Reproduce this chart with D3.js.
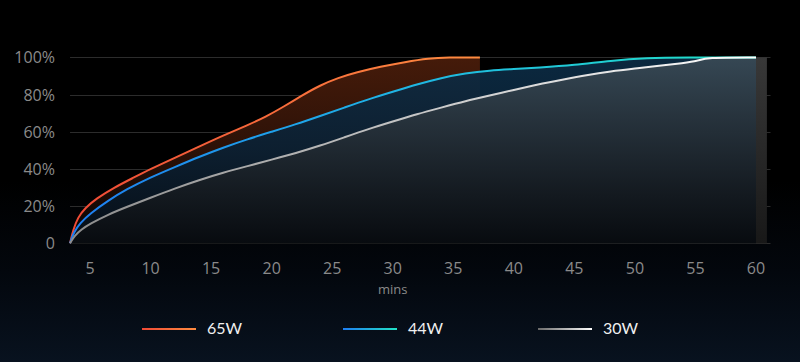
<!DOCTYPE html>
<html>
<head>
<meta charset="utf-8">
<script src="https://cdn.jsdelivr.net/npm/d3@7"></script>
<style>
  html, body { margin: 0; padding: 0; background: #000; }
  svg { display: block; }
</style>
</head>
<body>
<div id="chart"></div>
<script>

// charging curves, [minutes, percent]
var charge65 = [[3.35,0],[3.6,7],[4.0,14],[4.6,19],[5.5,24],[7,30],[8.5,35],[10,40],[12,46],[14,52],[16,58],[18,63.5],[19.5,68],[21,73.5],[22.5,79.5],[24,85],[25.5,89],[27,92],[29,95],[31,97.5],[33,99.5],[34.5,100],[37.2,100]];
var charge44 = [[3.35,0],[3.65,6],[4.2,11],[5,16],[6.5,23],[8,29],[10,35.5],[12,41],[14,46.5],[16,51.5],[18,56],[20,60],[22,64],[24,68.5],[26,73],[28,77.5],[30,81.5],[32,85.5],[34,89],[36,91.5],[38,93],[40,93.8],[42,94.5],[45,95.8],[48,98.3],[51,99.7],[54,100],[60,100]];
var charge30 = [[3.35,0],[3.7,4],[4.3,7.5],[5,10.5],[6.5,15.5],[8,19.5],[10,24.5],[12,29.5],[14,34],[16,38],[18,41.5],[20,45],[22,48.5],[24,52.5],[26,57],[28,61.5],[30,65.5],[32,69.5],[34,73],[36,76.5],[38,79.5],[40,82.5],[42,85.5],[44,88],[46,90.5],[48,92.5],[50,94],[52,95.5],[54,97],[55.2,98],[55.8,100],[60,100]];

var xTicks = [5,10,15,20,25,30,35,40,45,50,55,60];
var yTicks = [0,20,40,60,80,100];
var yTickLabels = ["0","20%","40%","60%","80%","100%"];
var legendNames = ["65W","44W","30W"];
var gridRange = [3.35, 61.2];   // minutes covered by gridlines
var stripEnd = 60.9;            // grey band after the last point

var svgWidth = 800;
var svgHeight = 362;

var svg = d3.select("#chart")
  .append("svg")
  .attr("width", svgWidth)
  .attr("height", svgHeight);

var defs = svg.append("defs");

function linGrad(id, stops, attrs) {
  var g = defs.append("linearGradient").attr("id", id);
  Object.keys(attrs).forEach(function(k) { g.attr(k, attrs[k]); });
  stops.forEach(function(s) {
    g.append("stop").attr("offset", s[0]).attr("stop-color", s[1]).attr("stop-opacity", s[2] == null ? 1 : s[2]);
  });
  return g;
}

var xScale = d3.scaleLinear().domain([5, 60]).range([90, 756]);
var yScale = d3.scaleLinear().domain([0, 100]).range([243.3, 57.4]);

// background
linGrad("bg", [[0,"#000000"],[0.5,"#000000"],[0.75,"#03070d"],[1,"#08121f"]], {x1:0,y1:0,x2:0,y2:1});
svg.append("rect").attr("width", svgWidth).attr("height", svgHeight).attr("fill", "url(#bg)");

// (window.top is reserved, so plot edges get their own names)
var plotTop = yScale(100), plotBottom = yScale(0);
var vert = {gradientUnits: "userSpaceOnUse", x1: 0, y1: plotTop, x2: 0, y2: plotBottom};
linGrad("fill65", [[0,"#451b0a"],[0.5,"#2c1107"],[1,"#0a0402"]], vert);
linGrad("fill44", [[0,"#0c2c45"],[0.5,"#0a2033"],[1,"#050d16"]], vert);
linGrad("fill30", [[0,"#384955"],[0.35,"#27323b"],[0.7,"#161c22"],[1,"#080b0f"]], vert);
linGrad("strip", [[0,"#383838"],[0.6,"#252525"],[1,"#181818"]], vert);

linGrad("line65", [[0,"#f04a36"],[1,"#ff8c40"]], {x1:0,y1:0,x2:1,y2:0});
linGrad("line44", [[0,"#1e7ef2"],[0.45,"#1fb2e6"],[1,"#22e3c6"]], {x1:0,y1:0,x2:1,y2:0});
linGrad("line30", [[0,"#8c8c8c"],[1,"#ffffff"]], {x1:0,y1:0,x2:1,y2:0});

// gridlines
svg.append("g")
  .selectAll("line")
  .data(yTicks)
  .enter()
  .append("line")
  .attr("x1", xScale(gridRange[0]))
  .attr("x2", xScale(gridRange[1]))
  .attr("y1", d => Math.round(yScale(d)) + 0.5)
  .attr("y2", d => Math.round(yScale(d)) + 0.5)
  .attr("stroke", "#2c2c2c")
  .attr("stroke-width", 1);

// y labels
svg.append("g")
  .selectAll("text")
  .data(yTicks)
  .enter()
  .append("text")
  .attr("x", 55)
  .attr("y", d => yScale(d) + 6)
  .attr("text-anchor", "end")
  .attr("font-family", "'Open Sans', sans-serif")
  .attr("font-size", "16px")
  .attr("fill", "#8a8a8a")
  .text((d, i) => yTickLabels[i]);

// x labels
svg.append("g")
  .selectAll("text")
  .data(xTicks)
  .enter()
  .append("text")
  .attr("x", d => xScale(d))
  .attr("y", 274)
  .attr("text-anchor", "middle")
  .attr("font-family", "'Open Sans', sans-serif")
  .attr("font-size", "16px")
  .attr("fill", "#8a8a8a")
  .text(d => d);

svg.append("text")
  .attr("x", xScale(30))
  .attr("y", 294)
  .attr("text-anchor", "middle")
  .attr("font-family", "'Open Sans', sans-serif")
  .attr("font-size", "13px")
  .attr("fill", "#8a8a8a")
  .text("mins");

var area = d3.area()
  .x(d => xScale(d[0]))
  .y0(plotBottom)
  .y1(d => yScale(d[1]))
  .curve(d3.curveBasis);

var line = d3.line()
  .x(d => xScale(d[0]))
  .y(d => yScale(d[1]))
  .curve(d3.curveBasis);

var series = [
  {data: charge65, fill: "url(#fill65)", stroke: "url(#line65)", op: 1},
  {data: charge44, fill: "url(#fill44)", stroke: "url(#line44)", op: 0.92},
  {data: charge30, fill: "url(#fill30)", stroke: "url(#line30)", op: 0.95}
];

series.forEach(function(s) {
  svg.append("path")
    .attr("d", area(s.data))
    .attr("fill", s.fill)
    .attr("fill-opacity", s.op);
});

// grey band at the right end
svg.append("rect")
  .attr("x", xScale(60))
  .attr("y", plotTop)
  .attr("width", xScale(stripEnd) - xScale(60))
  .attr("height", plotBottom - plotTop)
  .attr("fill", "url(#strip)");

series.forEach(function(s) {
  svg.append("path")
    .attr("d", line(s.data))
    .attr("fill", "none")
    .attr("stroke", s.stroke)
    .attr("stroke-width", 2);
});

// legend
var legendX = [142, 343, 538];
var legend = svg.append("g");
legendNames.forEach(function(name, i) {
  linGrad("leg" + i, i === 0 ? [[0,"#f04a36"],[1,"#ff8c40"]]
                  : i === 1 ? [[0,"#1e7ef2"],[1,"#22e3c6"]]
                  : [[0,"#6a6a6a"],[1,"#ffffff"]], {gradientUnits: "userSpaceOnUse", x1: legendX[i], x2: legendX[i] + 54, y1: 0, y2: 0});
  legend.append("line")
    .attr("x1", legendX[i])
    .attr("x2", legendX[i] + 54)
    .attr("y1", 329)
    .attr("y2", 329)
    .attr("stroke", "url(#leg" + i + ")")
    .attr("stroke-width", 2);
  legend.append("text")
    .attr("x", legendX[i] + 65)
    .attr("y", 334)
    .attr("font-family", "Lato, sans-serif")
    .attr("font-size", "16px")
    .attr("fill", "#f0f0f0")
    .text(name);
});

</script>
</body>
</html>
